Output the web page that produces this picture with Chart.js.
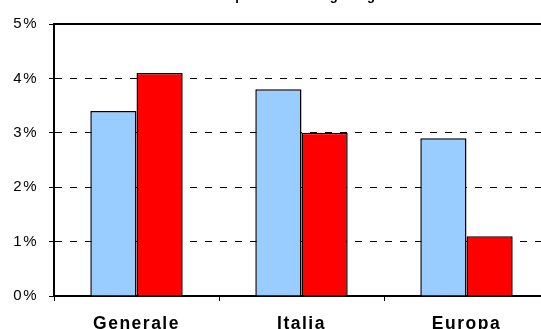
<!DOCTYPE html>
<html>
<head>
<meta charset="utf-8">
<script src="https://cdn.jsdelivr.net/npm/chart.js@4.4.0/dist/chart.umd.min.js"></script>
<style>
  html, body { margin: 0; padding: 0; background: #fff; overflow: hidden; }
  body { width: 541px; height: 329px; }
  #chart { display: block; margin-top: -20px; }
</style>
</head>
<body>
<canvas id="chart" width="560" height="349"></canvas>
<script>
// Chart data
const categories = ["Generale", "Italia", "Europa"];
const seriesBlue = [3.4, 3.8, 2.9];
const seriesRed = [4.1, 3.0, 1.1];
const yTickValues = [0, 1, 2, 3, 4, 5];
const chartTitle = "Costi e tempi medi di lega e gara";

const FONT = "'Liberation Sans', Arial, sans-serif";

// Old-style spaced text, like the original export
const spacingPlugin = {
  id: "spacing",
  beforeUpdate(chart) { chart.ctx.letterSpacing = "1.5px"; },
  beforeDraw(chart) { chart.ctx.letterSpacing = "1.5px"; },
};

const ctx = document.getElementById("chart").getContext("2d");
new Chart(ctx, {
  type: "bar",
  data: {
    labels: categories,
    datasets: [
      {
        data: seriesBlue,
        backgroundColor: "#99CCFF",
        borderColor: "#000",
        borderWidth: 1.5,
      },
      {
        data: seriesRed,
        backgroundColor: "#FF0000",
        borderColor: "#000",
        borderWidth: 1.5,
      },
    ],
  },
  options: {
    responsive: false,
    animation: false,
    layout: { padding: { left: 0, right: 11, top: 0, bottom: 0 } },
    datasets: {
      bar: { barPercentage: 1, categoryPercentage: 0.56 },
    },
    plugins: {
      legend: { display: false },
      tooltip: { enabled: false },
      title: {
        display: true,
        text: chartTitle,
        color: "#000",
        font: { family: FONT, size: 13, weight: "bold" },
        padding: { top: 9, bottom: 11.4 },
      },
    },
    scales: {
      x: {
        position: "bottom",
        grid: {
          offset: true,
          drawOnChartArea: false,
          tickLength: 5,
          tickColor: "#000",
        },
        border: { display: true, color: "#000", width: 2 },
        ticks: {
          color: "#000",
          padding: 13,
          font: { family: FONT, size: 17.5, weight: "bold" },
        },
        afterFit(scale) { scale.height = 33; },
      },
      x2: {
        type: "category",
        position: "top",
        labels: categories,
        grid: { display: false },
        ticks: { display: false },
        border: { display: true, color: "#000", width: 2 },
      },
      y: {
        min: 0,
        max: 5,
        afterBuildTicks(scale) {
          scale.ticks = yTickValues.map((v) => ({ value: v }));
        },
        grid: {
          color: "#000",
          lineWidth: 1,
          tickLength: 5,
          tickColor: "#000",
          tickBorderDash: [],
        },
        border: { display: true, color: "#000", width: 2, dash: [7, 8] },
        ticks: {
          color: "#000",
          padding: 11,
          font: { family: FONT, size: 15 },
          callback: (v) => v + "%",
        },
        afterFit(scale) { scale.width = 54; },
      },
    },
  },
  plugins: [spacingPlugin],
});
</script>
</body>
</html>
